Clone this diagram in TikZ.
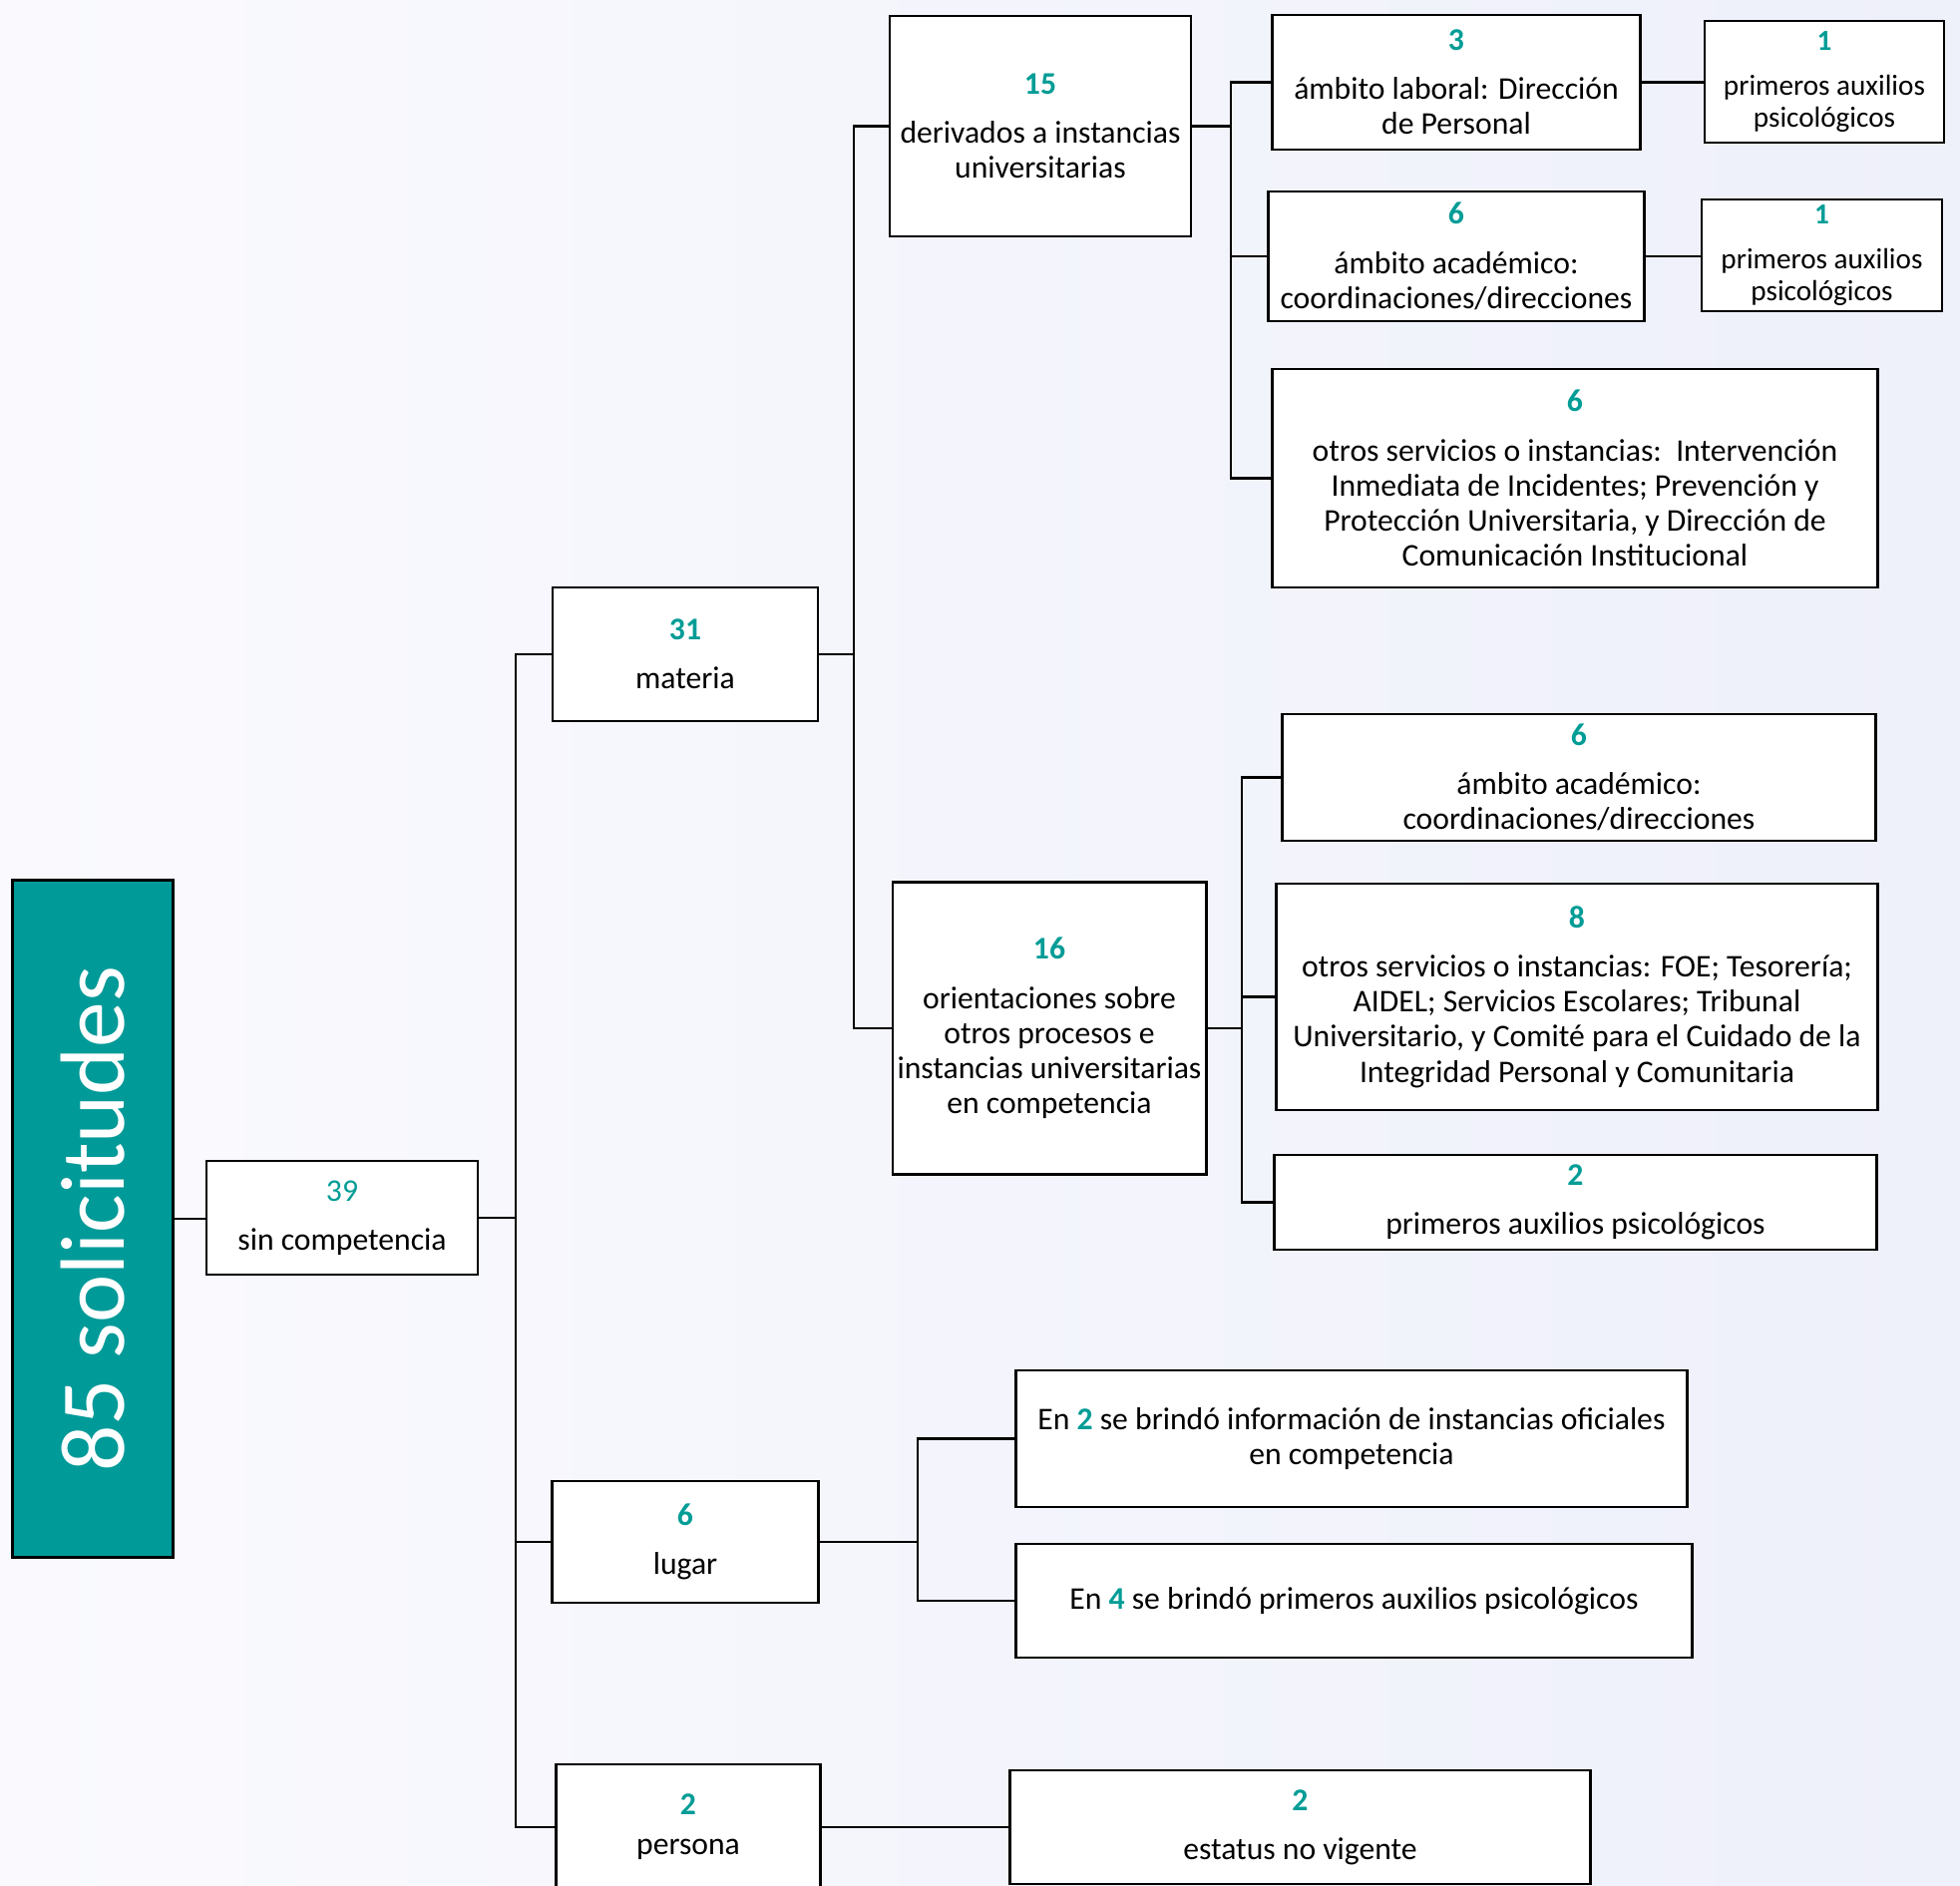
\documentclass[tikz,border=0pt]{standalone}
\usepackage{graphicx}
\usepackage{fontspec}
\setmainfont{Carlito}

\definecolor{tealbox}{HTML}{009A98}
\definecolor{tealnum}{HTML}{009C96}
\definecolor{bgleft}{HTML}{FAFAFE}
\definecolor{bgright}{HTML}{EEF0FA}

\newcommand{\cifra}[1]{{\bfseries\color{tealnum}#1}}

\begin{document}
\begin{tikzpicture}
	[x=0.01cm, y=-0.01cm,
	box/.style={draw, fill=white, line width=0.8pt, align=center, inner sep=1pt, font=\fontsize{9}{10}\selectfont},
	small/.style={box, font=\fontsize{8.3}{9.2}\selectfont},
	link/.style={line width=0.8pt}]
	% fondo
	\shade[left color=bgleft, right color=bgright] (0,0) rectangle (1965,1891);
	\useasboundingbox (0,0) rectangle (1965,1891);

	% raiz
	\node[box, fill=tealbox, minimum width=1.61cm, minimum height=6.78cm] (total) at (93,1222)
		{\rotatebox{90}{\fontsize{26}{26}\selectfont\color{white}85 solicitudes}};
	\node[box, minimum width=2.72cm, minimum height=1.14cm] (sin) at (343,1221)
		{{\color{tealnum}39}\\[4pt] sin competencia};

	% segundo nivel
	\node[box, minimum width=2.66cm, minimum height=1.34cm] (mat) at (687,656)
		{\cifra{31}\\[4pt] materia};
	\node[box, minimum width=2.67cm, minimum height=1.22cm] (lug) at (687,1546)
		{\cifra{6}\\[4pt] lugar};
	\node[box, minimum width=2.65cm, minimum height=1.26cm] (per) at (690,1832)
		{\cifra{2}\\[1.4pt] persona};

	% materia
	\node[box, minimum width=3.02cm, minimum height=2.21cm] (der) at (1043,126.5)
		{\cifra{15}\\[4pt] derivados a instancias\\ universitarias};
	\node[box, minimum width=3.14cm, minimum height=2.93cm] (ori) at (1052,1031)
		{\cifra{16}\\[4pt] orientaciones sobre\\ otros procesos e\\ instancias universitarias\\ en competencia};

	% derivados
	\node[box, minimum width=3.69cm, minimum height=1.35cm] (lab) at (1460,82.5)
		{\cifra{3}\\[4pt] ámbito laboral: Dirección\\ de Personal};
	\node[box, minimum width=3.76cm, minimum height=1.30cm] (aca1) at (1460,257)
		{\cifra{6}\\[4pt] ámbito académico:\\ coordinaciones/direcciones};
	\node[box, minimum width=6.06cm, minimum height=2.19cm] (otr1) at (1579,479.5)
		{\cifra{6}\\[4pt] otros servicios o instancias:\ \ Intervención\\ Inmediata de Incidentes; Prevención y\\ Protección Universitaria, y Dirección de\\ Comunicación Institucional};
	\node[small, minimum width=2.40cm, minimum height=1.22cm] (pa1) at (1829,82)
		{\cifra{1}\\[3.5pt] primeros auxilios\\ psicológicos};
	\node[small, minimum width=2.41cm, minimum height=1.12cm] (pa2) at (1826.5,256)
		{\cifra{1}\\[3.5pt] primeros auxilios\\ psicológicos};

	% orientaciones
	\node[box, minimum width=5.94cm, minimum height=1.27cm] (aca2) at (1583,779.5)
		{\cifra{6}\\[4pt] ámbito académico:\\ coordinaciones/direcciones};
	\node[box, minimum width=6.02cm, minimum height=2.27cm] (otr2) at (1581,999.5)
		{\cifra{8}\\[4pt] otros servicios o instancias: FOE; Tesorería;\\ AIDEL; Servicios Escolares; Tribunal\\ Universitario, y Comité para el Cuidado de la\\ Integridad Personal y Comunitaria};
	\node[box, minimum width=6.03cm, minimum height=0.95cm] (pa3) at (1579.5,1205.5)
		{\cifra{2}\\[4pt] primeros auxilios psicológicos};

	% lugar y persona
	\node[box, minimum width=6.72cm, minimum height=1.37cm] (en2) at (1355,1442.5)
		{En \cifra{2} se brindó información de instancias oficiales\\ en competencia};
	\node[box, minimum width=6.77cm, minimum height=1.14cm] (en4) at (1357.5,1605)
		{En \cifra{4} se brindó primeros auxilios psicológicos};
	\node[box, minimum width=5.81cm, minimum height=1.14cm] (est) at (1303.5,1832)
		{\cifra{2}\\[4pt] estatus no vigente};

	% codos
	\coordinate (tr1) at (517,0);
	\coordinate (tr2) at (856,0);
	\coordinate (tr3) at (1234,0);
	\coordinate (tr4) at (1245,0);
	\coordinate (tr5) at (920,0);

	\draw[link] (total.east) -- (total.east -| sin.west);
	\foreach \c in {mat,lug,per}
		\draw[link] (sin.east) -- (sin.east -| tr1) |- (\c.west);
	\foreach \c in {der,ori}
		\draw[link] (mat.east) -- (mat.east -| tr2) |- (\c.west);
	\foreach \c in {lab,aca1,otr1}
		\draw[link] (der.east) -- (der.east -| tr3) |- (\c.west);
	\foreach \c in {aca2,otr2,pa3}
		\draw[link] (ori.east) -- (ori.east -| tr4) |- (\c.west);
	\foreach \c in {en2,en4}
		\draw[link] (lug.east) -- (lug.east -| tr5) |- (\c.west);
	\draw[link] (per.east) -- (est.west);
	\draw[link] (lab.east) -- (lab.east -| pa1.west);
	\draw[link] (aca1.east) -- (aca1.east -| pa2.west);
\end{tikzpicture}
\end{document}
